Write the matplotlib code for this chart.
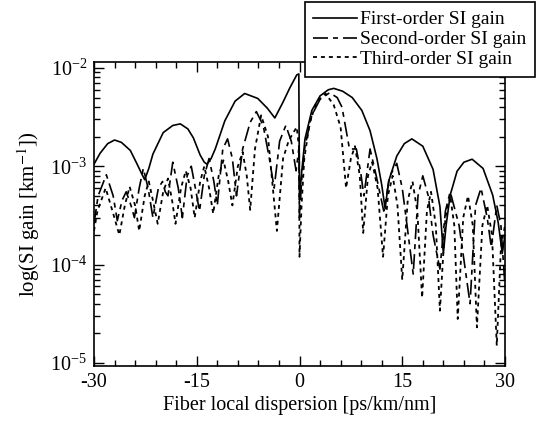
import matplotlib
matplotlib.use("Agg")
import matplotlib.pyplot as plt
from matplotlib.ticker import MultipleLocator, LogLocator, LogFormatterMathtext, NullFormatter

plt.rcParams['font.family'] = ['Liberation Serif', 'DejaVu Serif']
plt.rcParams['mathtext.fontset'] = 'stix'

# First-order SI gain
x_first = [-30, -29.1, -28, -27, -26, -24.7, -23.7, -23.0, -22.6, -22.0, -21.4, -19.9,
           -18.5, -17.4, -16.3, -15.5, -14.5, -13.9, -13.5, -12.9, -12.3, -10.9, -9.4,
           -8.0, -6.1, -4.7, -3.6, -2.4, -1.4, -0.4, -0.1, 0.0, 0.3, 0.8, 1.8, 3.0, 4.2,
           5.0, 6.3, 7.7, 9.1, 10.3, 11.3, 12.0, 12.5, 13.0, 14.2, 15.3, 16.4, 18.0,
           19.5, 20.5, 21.0, 21.4, 22.0, 23.0, 24.0, 25.2, 26.8, 28.2, 29.0, 29.6, 30]
y_first = [1.05e-3, 1.36e-3, 1.7e-3, 1.85e-3, 1.75e-3, 1.45e-3, 1.05e-3, 8.3e-4, 7.3e-4,
           9.5e-4, 1.33e-3, 2.2e-3, 2.6e-3, 2.7e-3, 2.4e-3, 1.95e-3, 1.3e-3, 1.1e-3,
           1.05e-3, 1.2e-3, 1.5e-3, 2.9e-3, 4.6e-3, 5.5e-3, 4.9e-3, 3.9e-3, 3.1e-3,
           4.5e-3, 6.3e-3, 8.5e-3, 8.7e-3, 4.5e-4, 8.5e-4, 1.9e-3, 3.7e-3, 5.2e-3,
           6.0e-3, 6.2e-3, 5.8e-3, 5.0e-3, 3.7e-3, 2.3e-3, 1.2e-3, 6.5e-4, 3.7e-4,
           7.0e-4, 1.27e-3, 1.7e-3, 1.9e-3, 1.6e-3, 9.3e-4, 3.9e-4, 1.3e-4, 2.5e-4,
           5.1e-4, 8.9e-4, 1.1e-3, 1.18e-3, 9.5e-4, 5.1e-4, 2.7e-4, 1.3e-4, 2.0e-4]

# Second-order SI gain
x_second = [-30, -29.4, -28.2, -27.2, -26.6, -25.9, -25.3, -24.6, -24.1, -23.4, -22.8,
            -22.1, -21.4, -20.6, -20.0, -19.6, -19.2, -18.5, -17.7, -17.1, -16.4, -15.8,
            -15.2, -14.6, -13.9, -13.2, -12.5, -12.0, -11.2, -10.5, -9.8, -9.2, -8.3,
            -7.2, -6.3, -5.3, -4.4, -3.7, -2.9, -2.0, -1.2, -0.5, -0.1, 0.0, 0.3, 0.8,
            1.8, 3.0, 4.4, 5.5, 6.2, 6.6, 7.3, 8.3, 8.9, 9.4, 10.3, 11.2, 12.3, 13.2,
            14.2, 15.0, 15.7, 16.6, 17.3, 18.0, 18.8, 19.5, 20.5, 21.3, 22.0, 23.3,
            24.9, 25.7, 26.5, 27.4, 28.0, 28.8, 29.4, 30]
y_second = [2.6e-4, 5.0e-4, 8.2e-4, 5.0e-4, 2.8e-4, 4.5e-4, 5.5e-4, 4.0e-4, 3.0e-4,
            6.0e-4, 9.5e-4, 6.0e-4, 3.0e-4, 6.0e-4, 7.0e-4, 5.5e-4, 5.0e-4, 1.1e-3,
            6.0e-4, 3.0e-4, 8.0e-4, 1.0e-3, 6.0e-4, 3.5e-4, 8.0e-4, 1.2e-3, 7.0e-4,
            4.0e-4, 1.5e-3, 1.9e-3, 1.2e-3, 5.0e-4, 1.5e-3, 2.8e-3, 3.6e-3, 2.6e-3,
            1.2e-3, 6.0e-4, 1.8e-3, 2.6e-3, 1.8e-3, 9.0e-4, 1.5e-3, 3.0e-4, 7.0e-4,
            1.6e-3, 3.3e-3, 4.8e-3, 5.6e-3, 5.0e-3, 4.0e-3, 2.8e-3, 1.5e-3, 1.5e-3,
            9.0e-4, 5.0e-4, 1.5e-3, 8.0e-4, 3.5e-4, 8.0e-4, 1.07e-3, 6.0e-4, 2.5e-4,
            8.0e-5, 5.0e-4, 8.0e-4, 5.0e-4, 2.0e-4, 9.0e-5, 3.5e-4, 5.5e-4, 2.5e-4,
            4.0e-5, 4.0e-4, 6.0e-4, 3.0e-4, 1.5e-4, 4.0e-4, 2.5e-4, 6.0e-5]

# Third-order SI gain
x_third = [-30, -29.5, -28.3, -27.3, -26.3, -25.5, -24.8, -24.0, -23.4, -22.6, -22.0,
           -21.4, -20.7, -19.9, -19.2, -18.6, -18.1, -17.3, -16.6, -15.9, -15.3, -14.5,
           -13.9, -13.2, -12.6, -11.8, -11.1, -10.4, -9.8, -9.0, -8.3, -7.7, -7.2,
           -6.5, -5.6, -4.6, -3.3, -2.4, -1.6, -0.9, -0.4, -0.05, 0.0, 0.3, 0.7, 1.5,
           2.5, 3.8, 5.0, 6.0, 6.8, 7.5, 8.1, 8.8, 9.3, 10.0, 10.6, 11.4, 12.2, 12.9,
           13.6, 14.3, 15.0, 15.8, 16.5, 17.2, 17.9, 18.6, 19.2, 19.9, 20.5, 21.3,
           22.0, 22.6, 23.1, 23.9, 24.6, 25.3, 25.9, 26.7, 27.4, 28.1, 28.8, 29.4, 30]
y_third = [2.2e-4, 3.5e-4, 6.0e-4, 3.5e-4, 2.0e-4, 4.0e-4, 6.2e-4, 4.0e-4, 2.2e-4,
           5.0e-4, 7.0e-4, 4.5e-4, 2.6e-4, 5.5e-4, 7.5e-4, 4.5e-4, 2.6e-4, 6.0e-4,
           9.0e-4, 6.0e-4, 3.0e-4, 7.0e-4, 1.0e-3, 6.0e-4, 3.3e-4, 8.0e-4, 1.15e-3,
           7.0e-4, 4.0e-4, 1.0e-3, 1.4e-3, 8.0e-4, 3.6e-4, 1.5e-3, 3.3e-3, 2.0e-3,
           2.2e-4, 1.2e-3, 1.8e-3, 2.2e-3, 2.5e-3, 1.5e-3, 1.2e-4, 4.0e-4, 1.2e-3,
           2.8e-3, 4.5e-3, 5.5e-3, 4.2e-3, 2.5e-3, 6.0e-4, 1.2e-3, 1.6e-3, 8.0e-4,
           2.1e-4, 8.0e-4, 1.1e-3, 6.0e-4, 1.2e-4, 5.0e-4, 8.0e-4, 4.0e-4, 7.0e-5,
           4.5e-4, 7.0e-4, 3.5e-4, 4.6e-5, 3.5e-4, 5.5e-4, 2.5e-4, 3.4e-5, 3.0e-4,
           5.0e-4, 2.5e-4, 2.8e-5, 3.0e-4, 5.0e-4, 2.5e-4, 2.3e-5, 2.5e-4, 4.0e-4,
           2.0e-4, 1.5e-5, 1.5e-4, 2.5e-4]

series_labels = ['First-order SI gain', 'Second-order SI gain', 'Third-order SI gain']
x_ticks = [-30, -15, 0, 15, 30]

fig = plt.figure(figsize=(5.36, 4.25), dpi=100)
ax = fig.add_axes([94 / 536, 1 - 366 / 425, 411 / 536, 304 / 425])

ax.plot(x_first, y_first, color='black', lw=1.2, ls='-', label=series_labels[0])
ax.plot(x_second, y_second, color='black', lw=1.2, ls=(0, (9, 3, 3, 3)), label=series_labels[1])
ax.plot(x_third, y_third, color='black', lw=1.3, ls=(0, (2.2, 2.2)), label=series_labels[2])

ax.set_yscale('log')
ax.set_xlim(-30, 30)
ax.set_ylim(9.3e-6, 1.15e-2)
ax.set_xticks(x_ticks)
ax.set_xticklabels([str(t) for t in x_ticks])
ax.xaxis.set_minor_locator(MultipleLocator(3))
ax.yaxis.set_major_locator(LogLocator(base=10, numticks=10))
ax.yaxis.set_major_formatter(LogFormatterMathtext())
ax.yaxis.set_minor_locator(LogLocator(base=10, subs=range(2, 10), numticks=10))
ax.yaxis.set_minor_formatter(NullFormatter())

ax.tick_params(which='both', direction='in', top=True, right=True, labelsize=14.5, width=1)
ax.tick_params(which='major', length=7, pad=5)
ax.tick_params(which='minor', length=4)
for s in ax.spines.values():
    s.set_linewidth(1.2)

ax.set_xlabel('Fiber local dispersion [ps/km/nm]', fontsize=14.5, labelpad=3)
ax.set_ylabel(r'log(SI gain [km$^{-1}$])', fontsize=15, labelpad=6)

leg = ax.legend(loc='upper right', bbox_to_anchor=(535 / 536, 1 - 2 / 425),
                bbox_transform=fig.transFigure, frameon=True, fancybox=False,
                edgecolor='black', framealpha=1, fontsize=14, handlelength=2.25,
                handletextpad=0.15, borderpad=0.45, labelspacing=0.12, borderaxespad=0)
leg.get_frame().set_linewidth(1.2)

fig.savefig('out.png', dpi=100)
